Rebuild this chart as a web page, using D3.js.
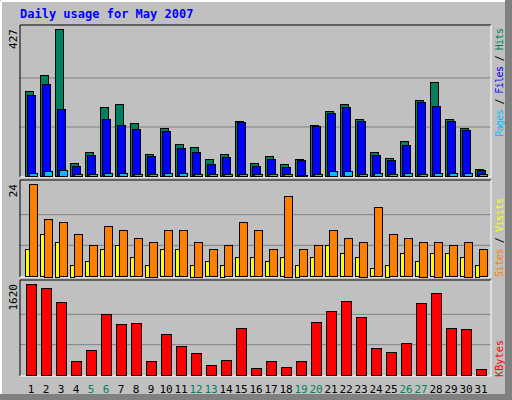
<!doctype html>
<html lang="en">
<head>
  <meta charset="utf-8">
  <script src="https://d3js.org/d3.v7.min.js"></script>
  <style>
    body { margin: 0; background: #fff; }
    text { font-family: "DejaVu Sans Mono", monospace; }
  </style>
</head>
<body>
<div id="vis"></div>
<script>
const days = d3.range(1, 32);
const weekend = [5, 6, 12, 13, 19, 20, 26, 27];
const hits  = [247,294,427,39,71,201,210,155,65,140,94,83,48,65,160,39,57,36,50,149,190,210,166,70,53,103,221,273,166,140,21];
const files = [236,268,195,28,62,166,149,137,59,132,82,71,36,56,158,28,50,27,47,146,184,201,160,62,47,91,216,204,160,134,16];
const pages = [10,14,17,7,7,8,8,7,7,8,8,7,7,7,7,7,7,5,3,7,14,14,7,10,7,8,7,10,10,10,7];
const visits = [24,15,14,11,8,13,12,10,9,12,12,9,7,8,14,12,7,21,7,8,12,10,9,18,11,10,9,9,8,9,7];
const sites  = [7,11,9,3,4,7,8,5,3,7,7,3,4,3,5,5,4,5,3,5,8,6,5,2,3,6,4,6,6,5,3];
const kbytes = [1620,1549,1301,254,449,1088,911,928,254,733,520,396,183,272,840,130,254,148,254,946,1141,1318,1035,485,414,573,1283,1460,840,822,112];

const W = 512, H = 400;
const svg = d3.select('#vis').append('svg').attr('width', W).attr('height', H);

// background + bevel
svg.append('rect').attr('width', W).attr('height', H).attr('fill', '#c0c0c0');
svg.append('rect').attr('x', 505).attr('y', 0).attr('width', 7).attr('height', H).attr('fill', '#808080');
svg.append('rect').attr('x', 0).attr('y', 394).attr('width', W).attr('height', 6).attr('fill', '#808080');
svg.append('line').attr('x1', 1).attr('y1', 1).attr('x2', 1).attr('y2', 394).attr('stroke', '#fff').attr('stroke-width', 2);
svg.append('line').attr('x1', 1).attr('y1', 1).attr('x2', 505).attr('y2', 1).attr('stroke', '#fff').attr('stroke-width', 2);

svg.append('text').attr('x', 20).attr('y', 18)
  .attr('fill', '#0000ff').attr('font-size', 12).attr('font-weight', 'bold')
  .text('Daily usage for May 2007');

const x = d3.scaleLinear().domain([1, 31]).range([25, 475]);
const left = 20, right = 491;

function panel(top, bottom, max, label) {
  const y = d3.scaleLinear().domain([0, max]).range([bottom, top + 4]);
  const g = svg.append('g');
  [1/3, 2/3].forEach(f => {
    g.append('line').attr('x1', left).attr('x2', right)
      .attr('y1', y(max * f)).attr('y2', y(max * f))
      .attr('stroke', '#808080');
  });
  // frame
  g.append('path').attr('d', `M${left},${bottom + 1}V${top}H${right}`).attr('fill', 'none').attr('stroke', '#000');
  g.append('path').attr('d', `M${left},${bottom + 1}H${right}V${top}`).attr('fill', 'none').attr('stroke', '#fff');
  g.append('text').attr('transform', `translate(17,${top + 4}) rotate(-90)`)
    .attr('text-anchor', 'end').attr('font-size', 11).attr('fill', '#000')
    .attr('font-family', 'DejaVu Sans').text(label);
  return y;
}

function bars(y, data, dx, w, color) {
  svg.append('g').selectAll('rect').data(data).join('rect')
    .attr('x', (d, i) => x(days[i]) + dx + 0.5)
    .attr('y', d => Math.round(y(d)) + 0.5)
    .attr('width', w)
    .attr('height', d => Math.max(1, Math.round(y(0) - y(d))))
    .attr('fill', color).attr('stroke', '#000');
}

function sideLabel(y0, y1, items) {
  const t = svg.append('text').attr('transform', `translate(503,${y1}) rotate(-90)`)
    .attr('font-size', 10)
    .attr('textLength', y1 - y0).attr('lengthAdjust', 'spacing');
  items.forEach(([s, c]) => t.append('tspan').attr('fill', c).text(s));
}

// top panel
const y1 = panel(25, 176, 427, '427');
bars(y1, hits, 0, 8, '#00805c');
bars(y1, files, 2, 8, '#0000ff');
bars(y1, pages, 4, 8, '#00c0ff');
sideLabel(28, 137, [['Pages', '#00c0ff'], [' / ', '#000'], ['Files', '#0000ff'], [' / ', '#000'], ['Hits', '#00805c']]);

// middle panel
const y2 = panel(180, 276, 24, '24');
bars(y2, sites, 0, 4, '#ffff00');
bars(y2, visits, 4, 8, '#ff8000');
sideLabel(198, 277, [['Sites', '#ff8000'], [' / ', '#000'], ['Visits', '#ffff00']]);

// bottom panel
const y3 = panel(280, 375, 1620, '1620');
bars(y3, kbytes, 1, 10, '#ff0000');
sideLabel(340, 377, [['KBytes', '#ff0000']]);

svg.append('g').selectAll('text').data(days).join('text')
  .attr('x', d => x(d) + 6).attr('y', 393)
  .attr('text-anchor', 'middle').attr('font-size', 11)
  .attr('font-family', 'DejaVu Sans')
  .attr('fill', d => weekend.includes(d) ? '#00805c' : '#000')
  .text(d => d);
</script>
</body>
</html>
